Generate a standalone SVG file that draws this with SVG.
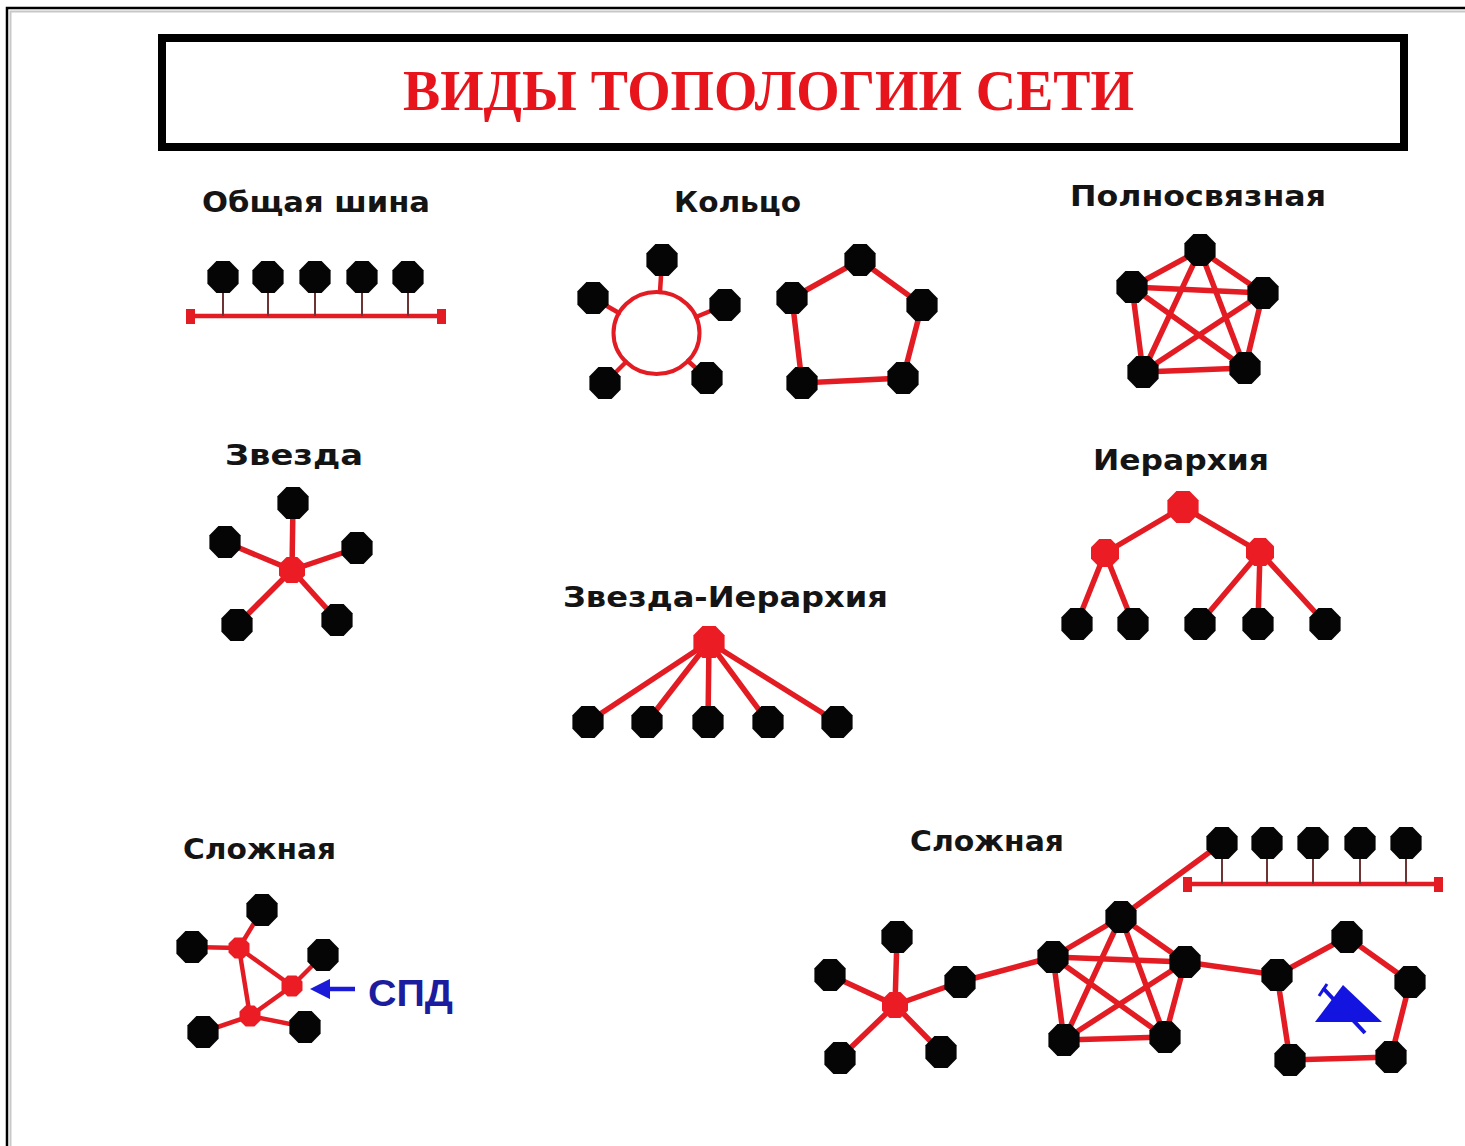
<svg xmlns="http://www.w3.org/2000/svg" xmlns:xlink="http://www.w3.org/1999/xlink" width="1465" height="1146" viewBox="0 0 1465 1146">
<style>
.lbl{font-family:"DejaVu Sans","Liberation Sans",sans-serif;font-weight:bold;font-size:29px;fill:#141414}
.ttl{font-family:"Liberation Serif","Times New Roman",serif;font-weight:bold;font-size:56px;fill:#e8141c}
.e{stroke:#e31b23;stroke-width:5.5;stroke-linecap:round;fill:none}
.e4{stroke:#e31b23;stroke-width:4.5;stroke-linecap:round;fill:none}
.bus{stroke:#e31b23;stroke-width:4.5;fill:none}
.drop{stroke:#6e3434;stroke-width:2;fill:none}
.blk{fill:#050505}
.red{fill:#ec1c24}
</style>
<defs>
<polygon id="oct" points="-6.6,-16 6.6,-16 15.6,-6.8 15.6,6.8 6.6,16 -6.6,16 -15.6,6.8 -15.6,-6.8"/>
<polygon id="oct14" points="-5.8,-14 5.8,-14 14,-5.8 14,5.8 5.8,14 -5.8,14 -14,5.8 -14,-5.8"/>
<polygon id="oct12" points="-5.4,-13 5.4,-13 13,-5.4 13,5.4 5.4,13 -5.4,13 -13,5.4 -13,-5.4"/>
<polygon id="oct10" points="-4.4,-10.5 4.4,-10.5 10.5,-4.4 10.5,4.4 4.4,10.5 -4.4,10.5 -10.5,4.4 -10.5,-4.4"/>
<marker id="ah" viewBox="0 0 10 10" refX="2" refY="5" markerWidth="4.5" markerHeight="4.5" orient="auto-start-reverse" markerUnits="strokeWidth">
<path d="M0,0 L10,5 L0,10 z" fill="#1a1ad8"/>
</marker>
</defs>
<rect width="1465" height="1146" fill="#ffffff"/>
<!-- page frame -->
<path d="M7,1146 V8 H1465" fill="none" stroke="#000" stroke-width="2.5"/>
<path d="M10.5,1146 V11.5 H1465" fill="none" stroke="#c8c8c8" stroke-width="2"/>
<!-- title -->
<g id="title">
<rect x="162" y="38" width="1242" height="109" fill="#fff" stroke="#000" stroke-width="8"/>
<text class="ttl" x="403" y="110" textLength="731" lengthAdjust="spacingAndGlyphs">ВИДЫ ТОПОЛОГИИ СЕТИ</text>
</g>
<!-- labels -->
<g id="labels">
<text class="lbl" x="202" y="212" textLength="228" lengthAdjust="spacingAndGlyphs">Общая шина</text>
<text class="lbl" x="674" y="212" textLength="127" lengthAdjust="spacingAndGlyphs">Кольцо</text>
<text class="lbl" x="1070" y="206" textLength="256" lengthAdjust="spacingAndGlyphs">Полносвязная</text>
<text class="lbl" x="225" y="465" textLength="138" lengthAdjust="spacingAndGlyphs">Звезда</text>
<text class="lbl" x="1093" y="470" textLength="176" lengthAdjust="spacingAndGlyphs">Иерархия</text>
<text class="lbl" x="563" y="607" textLength="325" lengthAdjust="spacingAndGlyphs">Звезда-Иерархия</text>
<text class="lbl" x="183" y="859" textLength="153" lengthAdjust="spacingAndGlyphs">Сложная</text>
<text class="lbl" x="910" y="851" textLength="154" lengthAdjust="spacingAndGlyphs">Сложная</text>
<text x="368" y="1006" textLength="85" lengthAdjust="spacingAndGlyphs" font-family="Liberation Sans, Arial, sans-serif" font-weight="bold" font-size="36" fill="#1c1c9e">СПД</text>
</g>
<!-- connectors -->
<g id="connectors">
<!-- bus 1 -->
<line class="bus" x1="190" y1="316" x2="443" y2="316"/>
<rect x="186" y="309" width="9" height="15" fill="#e31b23"/>
<rect x="437" y="309" width="9" height="15" fill="#e31b23"/>
<line class="drop" x1="223" y1="290" x2="223" y2="316"/>
<line class="drop" x1="268" y1="290" x2="268" y2="316"/>
<line class="drop" x1="315" y1="290" x2="315" y2="316"/>
<line class="drop" x1="362" y1="290" x2="362" y2="316"/>
<line class="drop" x1="408" y1="290" x2="408" y2="316"/>
<!-- ring with circle -->
<ellipse cx="656.5" cy="333" rx="43" ry="41" fill="none" stroke="#e31b23" stroke-width="4"/>
<line class="e4" x1="662" y1="260" x2="660" y2="292"/>
<line class="e4" x1="593" y1="298" x2="619" y2="313"/>
<line class="e4" x1="725" y1="305" x2="696" y2="317"/>
<line class="e4" x1="605" y1="383" x2="626" y2="362"/>
<line class="e4" x1="707" y1="378" x2="688" y2="361"/>
<!-- pentagon ring -->
<polygon class="e" points="860,260 922,305 903,378 802,383 792,298"/>
<!-- full mesh -->
<g class="e">
<line x1="1200" y1="250" x2="1132" y2="287"/>
<line x1="1200" y1="250" x2="1263" y2="293"/>
<line x1="1200" y1="250" x2="1143" y2="372"/>
<line x1="1200" y1="250" x2="1245" y2="368"/>
<line x1="1132" y1="287" x2="1263" y2="293"/>
<line x1="1132" y1="287" x2="1143" y2="372"/>
<line x1="1132" y1="287" x2="1245" y2="368"/>
<line x1="1263" y1="293" x2="1143" y2="372"/>
<line x1="1263" y1="293" x2="1245" y2="368"/>
<line x1="1143" y1="372" x2="1245" y2="368"/>
</g>
<!-- star -->
<g class="e">
<line x1="292" y1="570" x2="293" y2="503"/>
<line x1="292" y1="570" x2="225" y2="542"/>
<line x1="292" y1="570" x2="357" y2="548"/>
<line x1="292" y1="570" x2="237" y2="625"/>
<line x1="292" y1="570" x2="337" y2="620"/>
</g>
<!-- hierarchy -->
<g class="e">
<line x1="1183" y1="507" x2="1105" y2="553"/>
<line x1="1183" y1="507" x2="1260" y2="552"/>
<line x1="1105" y1="553" x2="1077" y2="623"/>
<line x1="1105" y1="553" x2="1133" y2="623"/>
<line x1="1260" y1="552" x2="1200" y2="623"/>
<line x1="1260" y1="552" x2="1258" y2="623"/>
<line x1="1260" y1="552" x2="1325" y2="623"/>
</g>
<!-- star-hierarchy -->
<g class="e">
<line x1="709" y1="642" x2="588" y2="722"/>
<line x1="709" y1="642" x2="647" y2="722"/>
<line x1="709" y1="642" x2="708" y2="722"/>
<line x1="709" y1="642" x2="768" y2="722"/>
<line x1="709" y1="642" x2="837" y2="722"/>
</g>
<!-- complex left -->
<g class="e4">
<line x1="262" y1="910" x2="239" y2="948"/>
<line x1="192" y1="947" x2="239" y2="948"/>
<line x1="239" y1="948" x2="292" y2="986"/>
<line x1="239" y1="948" x2="250" y2="1016"/>
<line x1="292" y1="986" x2="250" y2="1016"/>
<line x1="323" y1="955" x2="292" y2="986"/>
<line x1="203" y1="1032" x2="250" y2="1016"/>
<line x1="250" y1="1016" x2="305" y2="1027"/>
</g>
<line x1="355" y1="989" x2="326" y2="989" stroke="#1a1ad8" stroke-width="4.5" marker-end="url(#ah)"/>
<!-- complex right: star -->
<g class="e">
<line x1="895" y1="1005" x2="897" y2="937"/>
<line x1="895" y1="1005" x2="830" y2="975"/>
<line x1="895" y1="1005" x2="960" y2="982"/>
<line x1="895" y1="1005" x2="840" y2="1058"/>
<line x1="895" y1="1005" x2="941" y2="1052"/>
<line x1="960" y1="982" x2="1053" y2="957"/>
</g>
<!-- complex right: mesh -->
<g class="e">
<line x1="1121" y1="917" x2="1053" y2="957"/>
<line x1="1121" y1="917" x2="1185" y2="962"/>
<line x1="1121" y1="917" x2="1064" y2="1040"/>
<line x1="1121" y1="917" x2="1165" y2="1037"/>
<line x1="1053" y1="957" x2="1185" y2="962"/>
<line x1="1053" y1="957" x2="1064" y2="1040"/>
<line x1="1053" y1="957" x2="1165" y2="1037"/>
<line x1="1185" y1="962" x2="1064" y2="1040"/>
<line x1="1185" y1="962" x2="1165" y2="1037"/>
<line x1="1064" y1="1040" x2="1165" y2="1037"/>
</g>
<line class="e" x1="1121" y1="917" x2="1222" y2="843"/>
<line class="e" x1="1185" y1="962" x2="1277" y2="975"/>
<!-- complex right: bus -->
<line class="bus" x1="1188" y1="884" x2="1440" y2="884"/>
<rect x="1183" y="877" width="9" height="15" fill="#e31b23"/>
<rect x="1434" y="877" width="9" height="15" fill="#e31b23"/>
<line class="drop" x1="1222" y1="857" x2="1222" y2="884"/>
<line class="drop" x1="1267" y1="857" x2="1267" y2="884"/>
<line class="drop" x1="1313" y1="857" x2="1313" y2="884"/>
<line class="drop" x1="1360" y1="857" x2="1360" y2="884"/>
<line class="drop" x1="1406" y1="857" x2="1406" y2="884"/>
<!-- complex right: pentagon ring -->
<polygon class="e" points="1347,937 1410,982 1391,1057 1290,1060 1277,975"/>
</g>
<!-- blue symbol in ring -->
<g id="ring-symbol">
<polygon points="1315,1022 1343,985 1382,1022" fill="#1414e0"/>
<line x1="1323" y1="988" x2="1365" y2="1033" stroke="#1414e0" stroke-width="4"/>
<line x1="1319" y1="996" x2="1327" y2="984" stroke="#1414e0" stroke-width="3"/>
</g>
<!-- nodes: bus -->
<g id="bus-n1"><use href="#oct" x="223" y="277" class="blk"/></g>
<g id="bus-n2"><use href="#oct" x="268" y="277" class="blk"/></g>
<g id="bus-n3"><use href="#oct" x="315" y="277" class="blk"/></g>
<g id="bus-n4"><use href="#oct" x="362" y="277" class="blk"/></g>
<g id="bus-n5"><use href="#oct" x="408" y="277" class="blk"/></g>
<!-- ring circle nodes -->
<g id="ring1-n1"><use href="#oct" x="662" y="260" class="blk"/></g>
<g id="ring1-n2"><use href="#oct" x="593" y="298" class="blk"/></g>
<g id="ring1-n3"><use href="#oct" x="725" y="305" class="blk"/></g>
<g id="ring1-n4"><use href="#oct" x="605" y="383" class="blk"/></g>
<g id="ring1-n5"><use href="#oct" x="707" y="378" class="blk"/></g>
<!-- ring pentagon nodes -->
<g id="ring2-n1"><use href="#oct" x="860" y="260" class="blk"/></g>
<g id="ring2-n2"><use href="#oct" x="792" y="298" class="blk"/></g>
<g id="ring2-n3"><use href="#oct" x="922" y="305" class="blk"/></g>
<g id="ring2-n4"><use href="#oct" x="802" y="383" class="blk"/></g>
<g id="ring2-n5"><use href="#oct" x="903" y="378" class="blk"/></g>
<!-- mesh nodes -->
<g id="mesh-n1"><use href="#oct" x="1200" y="250" class="blk"/></g>
<g id="mesh-n2"><use href="#oct" x="1132" y="287" class="blk"/></g>
<g id="mesh-n3"><use href="#oct" x="1263" y="293" class="blk"/></g>
<g id="mesh-n4"><use href="#oct" x="1143" y="372" class="blk"/></g>
<g id="mesh-n5"><use href="#oct" x="1245" y="368" class="blk"/></g>
<!-- star nodes -->
<g id="star-hub"><use href="#oct12" x="292" y="570" class="red"/></g>
<g id="star-n1"><use href="#oct" x="293" y="503" class="blk"/></g>
<g id="star-n2"><use href="#oct" x="225" y="542" class="blk"/></g>
<g id="star-n3"><use href="#oct" x="357" y="548" class="blk"/></g>
<g id="star-n4"><use href="#oct" x="237" y="625" class="blk"/></g>
<g id="star-n5"><use href="#oct" x="337" y="620" class="blk"/></g>
<!-- hierarchy nodes -->
<g id="hier-root"><use href="#oct" x="1183" y="507" class="red"/></g>
<g id="hier-mid1"><use href="#oct14" x="1105" y="553" class="red"/></g>
<g id="hier-mid2"><use href="#oct14" x="1260" y="552" class="red"/></g>
<g id="hier-n1"><use href="#oct" x="1077" y="624" class="blk"/></g>
<g id="hier-n2"><use href="#oct" x="1133" y="624" class="blk"/></g>
<g id="hier-n3"><use href="#oct" x="1200" y="624" class="blk"/></g>
<g id="hier-n4"><use href="#oct" x="1258" y="624" class="blk"/></g>
<g id="hier-n5"><use href="#oct" x="1325" y="624" class="blk"/></g>
<!-- star-hierarchy nodes -->
<g id="sh-root"><use href="#oct" x="709" y="642" class="red"/></g>
<g id="sh-n1"><use href="#oct" x="588" y="722" class="blk"/></g>
<g id="sh-n2"><use href="#oct" x="647" y="722" class="blk"/></g>
<g id="sh-n3"><use href="#oct" x="708" y="722" class="blk"/></g>
<g id="sh-n4"><use href="#oct" x="768" y="722" class="blk"/></g>
<g id="sh-n5"><use href="#oct" x="837" y="722" class="blk"/></g>
<!-- complex left nodes -->
<g id="cl-r1"><use href="#oct10" x="239" y="948" class="red"/></g>
<g id="cl-r2"><use href="#oct10" x="292" y="986" class="red"/></g>
<g id="cl-r3"><use href="#oct10" x="250" y="1016" class="red"/></g>
<g id="cl-n1"><use href="#oct" x="262" y="910" class="blk"/></g>
<g id="cl-n2"><use href="#oct" x="192" y="947" class="blk"/></g>
<g id="cl-n3"><use href="#oct" x="323" y="955" class="blk"/></g>
<g id="cl-n4"><use href="#oct" x="203" y="1032" class="blk"/></g>
<g id="cl-n5"><use href="#oct" x="305" y="1027" class="blk"/></g>
<!-- complex right: star nodes -->
<g id="cr-hub"><use href="#oct12" x="895" y="1005" class="red"/></g>
<g id="cr-s1"><use href="#oct" x="897" y="937" class="blk"/></g>
<g id="cr-s2"><use href="#oct" x="830" y="975" class="blk"/></g>
<g id="cr-s3"><use href="#oct" x="960" y="982" class="blk"/></g>
<g id="cr-s4"><use href="#oct" x="840" y="1058" class="blk"/></g>
<g id="cr-s5"><use href="#oct" x="941" y="1052" class="blk"/></g>
<!-- complex right: mesh nodes -->
<g id="cr-m1"><use href="#oct" x="1121" y="917" class="blk"/></g>
<g id="cr-m2"><use href="#oct" x="1053" y="957" class="blk"/></g>
<g id="cr-m3"><use href="#oct" x="1185" y="962" class="blk"/></g>
<g id="cr-m4"><use href="#oct" x="1064" y="1040" class="blk"/></g>
<g id="cr-m5"><use href="#oct" x="1165" y="1037" class="blk"/></g>
<!-- complex right: bus nodes -->
<g id="cr-b1"><use href="#oct" x="1222" y="843" class="blk"/></g>
<g id="cr-b2"><use href="#oct" x="1267" y="843" class="blk"/></g>
<g id="cr-b3"><use href="#oct" x="1313" y="843" class="blk"/></g>
<g id="cr-b4"><use href="#oct" x="1360" y="843" class="blk"/></g>
<g id="cr-b5"><use href="#oct" x="1406" y="843" class="blk"/></g>
<!-- complex right: ring nodes -->
<g id="cr-p1"><use href="#oct" x="1347" y="937" class="blk"/></g>
<g id="cr-p2"><use href="#oct" x="1277" y="975" class="blk"/></g>
<g id="cr-p3"><use href="#oct" x="1410" y="982" class="blk"/></g>
<g id="cr-p4"><use href="#oct" x="1290" y="1060" class="blk"/></g>
<g id="cr-p5"><use href="#oct" x="1391" y="1057" class="blk"/></g>
</svg>
